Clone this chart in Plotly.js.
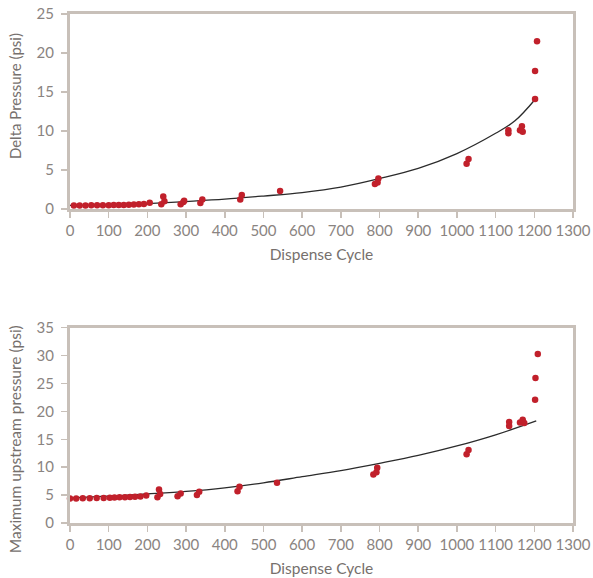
<!DOCTYPE html>
<html>
<head>
<meta charset="utf-8">
<script src="https://cdn.plot.ly/plotly-3.0.1.min.js"></script>
<style>
  html, body { margin: 0; padding: 0; background: #ffffff; }
  #chart { width: 593px; height: 578px; }
</style>
</head>
<body>
<div id="chart"></div>
<script>
// ---- Top chart: Delta Pressure (psi) ----
const deltaCycle = [10, 25, 40, 55, 70, 85, 100, 113, 126, 139, 152, 165, 178, 191, 206,
  236, 241, 244, 286, 293, 295, 337, 342, 440, 444, 543,
  788, 795, 797, 1025, 1030, 1133, 1133, 1163, 1168, 1170, 1202, 1202, 1207];
const deltaPressure = [0.45, 0.45, 0.45, 0.46, 0.47, 0.47, 0.48, 0.5, 0.5, 0.52, 0.55, 0.57, 0.6, 0.63, 0.8,
  0.6, 1.6, 1.0, 0.6, 0.9, 1.05, 0.75, 1.2, 1.2, 1.8, 2.3,
  3.2, 3.4, 3.9, 5.8, 6.4, 10.1, 9.7, 10.1, 10.6, 9.9, 14.1, 17.7, 21.5];
const deltaTrendCycle = [0, 100, 200, 300, 400, 500, 600, 700, 800, 900, 1000, 1100, 1150, 1203];
const deltaTrendValue = [0.45, 0.5, 0.68, 0.95, 1.25, 1.65, 2.1, 2.8, 3.9, 5.2, 7.1, 9.7, 11.3, 14.1];

// ---- Bottom chart: Maximum upstream pressure (psi) ----
const upCycle = [0, 16, 33, 51, 69, 87, 103, 115, 128, 142, 155, 168, 182, 197,
  226, 230, 233, 278, 286, 328, 334, 433, 438, 535,
  784, 792, 794, 1025, 1030, 1135, 1135, 1163, 1170, 1174, 1202, 1203, 1209];
const upPressure = [4.4, 4.4, 4.42, 4.45, 4.47, 4.5, 4.52, 4.55, 4.6, 4.62, 4.65, 4.7, 4.75, 4.95,
  4.6, 6.0, 5.2, 4.8, 5.3, 5.0, 5.6, 5.7, 6.5, 7.2,
  8.7, 9.1, 9.9, 12.3, 13.1, 18.1, 17.4, 18.0, 18.5, 17.9, 22.1, 26.0, 30.3];
const upTrendCycle = [0, 100, 200, 300, 400, 500, 600, 700, 800, 900, 1000, 1100, 1205];
const upTrendValue = [4.5, 4.8, 5.2, 5.65, 6.3, 7.2, 8.3, 9.4, 10.7, 12.1, 13.8, 15.8, 18.3];

const xTicks = [0, 100, 200, 300, 400, 500, 600, 700, 800, 900, 1000, 1100, 1200, 1300];
const xTitle = 'Dispense Cycle';
const yTitleTop = 'Delta Pressure (psi)';
const yTitleBottom = 'Maximum upstream pressure (psi)';

const markerColor = '#c1202b';
const lineColor = '#2b2b2b';
const axisColor = '#c8c0b9';
const tickFontColor = '#8a8481';
const titleFontColor = '#76706d';
const fontFamily = 'Lato, "Open Sans", sans-serif';

const traces = [
  { x: deltaTrendCycle, y: deltaTrendValue, type: 'scatter', mode: 'lines',
    line: { color: lineColor, width: 1.3, shape: 'spline' }, xaxis: 'x', yaxis: 'y',
    hoverinfo: 'skip', showlegend: false },
  { x: deltaCycle, y: deltaPressure, type: 'scatter', mode: 'markers',
    marker: { color: markerColor, size: 6.5 }, xaxis: 'x', yaxis: 'y',
    cliponaxis: false, showlegend: false },
  { x: upTrendCycle, y: upTrendValue, type: 'scatter', mode: 'lines',
    line: { color: lineColor, width: 1.3, shape: 'spline' }, xaxis: 'x2', yaxis: 'y2',
    hoverinfo: 'skip', showlegend: false },
  { x: upCycle, y: upPressure, type: 'scatter', mode: 'markers',
    marker: { color: markerColor, size: 6.5 }, xaxis: 'x2', yaxis: 'y2',
    cliponaxis: false, showlegend: false }
];

function xAxis(anchor) {
  return {
    anchor: anchor, domain: [0, 1], range: [0, 1300],
    tickvals: xTicks, ticktext: xTicks.map(String),
    showgrid: false, zeroline: false,
    showline: true, linecolor: axisColor, linewidth: 3, mirror: true,
    ticks: 'outside', ticklen: 6, tickwidth: 1.5, tickcolor: axisColor,
    tickfont: { family: fontFamily, size: 15, color: tickFontColor },
    title: { text: xTitle, font: { family: fontFamily, size: 15.5, color: titleFontColor }, standoff: 12 }
  };
}
function yAxis(anchor, domain, max) {
  const vals = [];
  for (let v = 0; v <= max; v += 5) vals.push(v);
  return {
    anchor: anchor, domain: domain, range: [0, max],
    tickvals: vals, ticktext: vals.map(String),
    showgrid: false, zeroline: false,
    showline: true, linecolor: axisColor, linewidth: 3, mirror: true,
    ticks: 'outside', ticklen: 6, tickwidth: 1.5, tickcolor: axisColor,
    ticklabelstandoff: 4,
    tickfont: { family: fontFamily, size: 15, color: tickFontColor }
  };
}

function yTitle(text, yPaper, size) {
  return {
    text: text, xref: 'paper', yref: 'paper', x: -0.109, y: yPaper,
    xanchor: 'center', yanchor: 'middle', textangle: -90, showarrow: false,
    font: { family: fontFamily, size: size, color: titleFontColor }
  };
}

const layout = {
  width: 593, height: 578,
  margin: { l: 70, r: 20, t: 14, b: 55 },
  paper_bgcolor: '#ffffff', plot_bgcolor: '#ffffff',
  font: { family: fontFamily },
  xaxis: xAxis('y'),
  yaxis: yAxis('x', [0.617, 1], 25),
  xaxis2: xAxis('y2'),
  yaxis2: yAxis('x2', [0, 0.3837], 35),
  annotations: [
    yTitle(yTitleTop, 0.839, 15),
    yTitle(yTitleBottom, 0.165, 15.5)
  ],
  showlegend: false
};

Plotly.newPlot('chart', traces, layout, { displayModeBar: false, staticPlot: true });
</script>
</body>
</html>
